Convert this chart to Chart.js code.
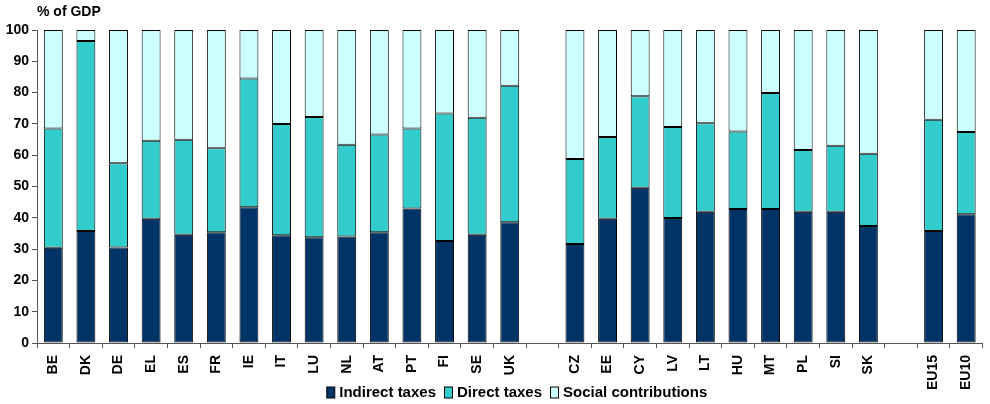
<!DOCTYPE html>
<html>
<head>
<meta charset="utf-8">
<script src="https://cdn.jsdelivr.net/npm/chart.js@4"></script>
<style>
  html, body { margin: 0; padding: 0; background: #fff; }
  #wrap { width: 990px; height: 404px; }
</style>
</head>
<body>
<div id="wrap"><canvas id="chartTaxes"></canvas></div>
<script>
// categories ('' = empty spacer slot)
const countries = ["BE", "DK", "DE", "EL", "ES", "FR", "IE", "IT", "LU", "NL", "AT", "PT", "FI", "SE", "UK", "",
  "CZ", "EE", "CY", "LV", "LT", "HU", "MT", "PL", "SI", "SK", "", "EU15", "EU10"];

const indirectTaxes = [30.4, 35.8, 30.5, 39.7, 34.6, 35.4, 43.4, 34.4, 33.8, 34.0, 35.4, 43.0, 32.6, 34.6, 38.6, null,
  31.6, 39.7, 49.6, 39.9, 41.9, 42.8, 42.8, 41.9, 41.9, 37.4, null, 35.8, 41.1];
const directTaxes = [38.1, 60.7, 26.9, 24.9, 30.3, 26.8, 41.1, 35.6, 38.4, 29.3, 31.2, 25.5, 40.7, 37.4, 43.6, null,
  27.2, 26.1, 29.2, 29.1, 28.3, 24.8, 37.1, 19.8, 21.1, 23.1, null, 35.5, 26.3];
const socialContrib = [31.5, 3.5, 42.6, 35.4, 35.1, 37.8, 15.5, 30.0, 27.8, 36.7, 33.4, 31.5, 26.7, 28.0, 17.8, null,
  41.2, 34.2, 21.2, 31.0, 29.8, 32.4, 20.1, 38.3, 37.0, 39.5, null, 28.7, 32.6];

const yTicks = [0, 10, 20, 30, 40, 50, 60, 70, 80, 90, 100];

const FONT = "'Liberation Sans', Arial, sans-serif";

// "% of GDP" above the y axis
const unitLabel = {
  id: "unitLabel",
  afterDraw(chart) {
    const ctx = chart.ctx;
    ctx.save();
    ctx.font = "bold 14px " + FONT;
    ctx.fillStyle = "#000";
    ctx.textAlign = "left";
    ctx.textBaseline = "middle";
    ctx.fillText("% of GDP", chart.chartArea.left, 12);
    ctx.restore();
  }
};

// legend row under the axis labels (drawn by hand so it can sit beside EU15/EU10)
const bottomLegend = {
  id: "bottomLegend",
  afterDraw(chart) {
    const ctx = chart.ctx;
    const sets = chart.data.datasets;
    const boxW = 8, boxH = 11, gapBox = 5, gapItem = 8;
    ctx.save();
    ctx.font = "bold 15px " + FONT;
    const widths = sets.map(ds => boxW + gapBox + ctx.measureText(ds.label).width);
    const total = widths.reduce((a, b) => a + b, 0) + gapItem * (sets.length - 1);
    let x = (chart.chartArea.left + chart.chartArea.right) / 2 - total / 2 + 7;
    const y = 392;
    sets.forEach((ds, i) => {
      ctx.fillStyle = ds.backgroundColor;
      ctx.fillRect(x + 0.5, y - boxH / 2 + 0.5, boxW, boxH);
      ctx.strokeStyle = "#000";
      ctx.lineWidth = 1;
      ctx.strokeRect(x + 0.5, y - boxH / 2 + 0.5, boxW, boxH);
      ctx.fillStyle = "#000";
      ctx.textAlign = "left";
      ctx.textBaseline = "middle";
      ctx.fillText(ds.label, x + boxW + gapBox, y + 1);
      x += widths[i] + gapItem;
    });
    ctx.restore();
  }
};

function makeSet(label, data, color) {
  return {
    label,
    data,
    backgroundColor: color,
    borderColor: "#000",
    borderWidth: 1,
    borderSkipped: false,
    barPercentage: 0.58,
    categoryPercentage: 1
  };
}

const ctx = document.getElementById("chartTaxes").getContext("2d");
new Chart(ctx, {
  type: "bar",
  data: {
    labels: countries,
    datasets: [
      makeSet("Indirect taxes", indirectTaxes, "#003366"),
      makeSet("Direct taxes", directTaxes, "#33CCCC"),
      makeSet("Social contributions", socialContrib, "#CCFFFF")
    ]
  },
  options: {
    responsive: true,
    maintainAspectRatio: false,
    animation: false,
    layout: { padding: { top: 30, right: 0, left: 0, bottom: 0 } },
    plugins: {
      tooltip: { enabled: false },
      legend: { display: false }
    },
    scales: {
      x: {
        stacked: true,
        afterFit(scale) { scale.height = 61; },
        grid: {
          offset: true,
          drawOnChartArea: false,
          drawTicks: true,
          tickLength: 5,
          color: "#555"
        },
        border: { display: true, color: "#555" },
        ticks: {
          autoSkip: false,
          maxRotation: 90,
          minRotation: 90,
          padding: 7,
          color: "#000",
          font: { family: FONT, size: 14, weight: "bold" }
        }
      },
      y: {
        stacked: true,
        min: 0,
        max: 100,
        afterFit(scale) { scale.width = 37; },
        afterBuildTicks(scale) { scale.ticks = yTicks.map(v => ({ value: v })); },
        grid: {
          drawOnChartArea: false,
          drawTicks: true,
          tickLength: 5,
          color: "#555"
        },
        border: { display: true, color: "#555" },
        ticks: {
          padding: 3,
          color: "#000",
          font: { family: FONT, size: 14, weight: "bold" }
        }
      }
    }
  },
  plugins: [unitLabel, bottomLegend]
});
</script>
</body>
</html>
